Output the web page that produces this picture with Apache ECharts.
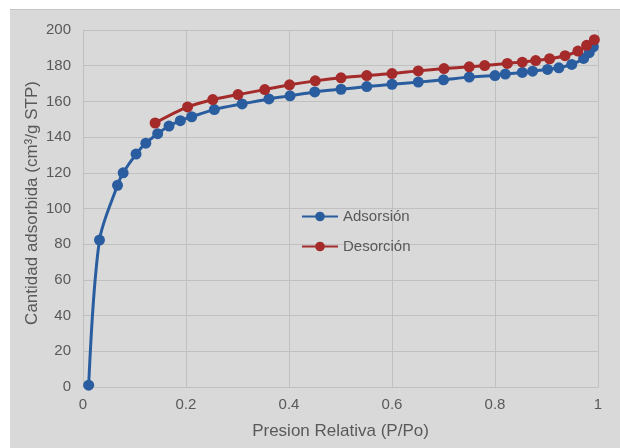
<!DOCTYPE html>
<html>
<head>
<meta charset="utf-8">
<script src="https://cdn.jsdelivr.net/npm/echarts@6/dist/echarts.min.js"></script>
<style>
  html, body { margin: 0; padding: 0; background: #ffffff; }
  #wrap { position: absolute; left: 10px; top: 9px; width: 610px; height: 439px;
          background: #d9d9d9; border-top: 1px solid #c4c4c4; box-sizing: border-box; }
  #main { width: 610px; height: 438px; }
</style>
</head>
<body>
<div id="wrap"><div id="main"></div></div>
<script>
// isoterma: presion relativa y cantidad adsorbida
var adsX = [0.011, 0.032, 0.067, 0.078, 0.103, 0.122, 0.145, 0.167, 0.189, 0.211, 0.255, 0.309,
            0.361, 0.402, 0.450, 0.501, 0.551, 0.600, 0.651, 0.700, 0.750, 0.800, 0.820, 0.853,
            0.873, 0.902, 0.924, 0.949, 0.972, 0.983, 0.991];
var adsY = [1, 82.3, 113, 120, 130.5, 136.6, 141.9, 146.2, 149.2, 151.4, 155.4, 158.6,
            161.4, 163.1, 165.3, 166.8, 168.3, 169.6, 170.8, 172.1, 173.6, 174.5, 175.3, 176.2,
            176.9, 177.9, 178.8, 180.7, 184.1, 187.3, 190.6];
var desX = [0.140, 0.203, 0.252, 0.301, 0.353, 0.401, 0.451, 0.501, 0.551, 0.600, 0.651,
            0.701, 0.750, 0.780, 0.824, 0.853, 0.879, 0.906, 0.936, 0.961, 0.978, 0.993];
var desY = [147.9, 156.9, 161, 163.8, 166.6, 169.3, 171.5, 173.2, 174.5, 175.6, 177.1,
            178.4, 179.4, 180.1, 181.3, 182, 182.9, 183.9, 185.6, 188.2, 191.4, 194.6];

function pares(xs, ys) {
    var out = [];
    for (var i = 0; i < xs.length; i++) out.push([xs[i], ys[i]]);
    return out;
}

var myChart = echarts.init(document.getElementById('main'));
var txt = '#595959';
var grid = '#c0c0c0';

var option = {
    animation: false,
    textStyle: { fontFamily: 'Liberation Sans, Arial, sans-serif' },
    grid: { left: 73, right: 22, top: 20, bottom: 61 },
    legend: {
        orient: 'vertical',
        left: 291,
        top: 199,
        padding: 0,
        itemWidth: 36,
        itemHeight: 12,
        itemGap: 15,
        textStyle: { color: txt, fontSize: 15 },
        data: ['Adsorsión', 'Desorción']
    },
    xAxis: {
        type: 'value',
        min: 0, max: 1, interval: 0.2,
        name: 'Presion Relativa (P/Po)',
        nameLocation: 'middle',
        nameGap: 36,
        nameTextStyle: { color: txt, fontSize: 17 },
        axisLine: { lineStyle: { color: grid } },
        axisTick: { show: false },
        axisLabel: { color: txt, fontSize: 15, margin: 10 },
        splitLine: { show: true, lineStyle: { color: grid } }
    },
    yAxis: {
        type: 'value',
        min: 0, max: 200, interval: 20,
        name: 'Cantidad adsorbida (cm³/g STP)',
        nameLocation: 'middle',
        nameGap: 42,
        nameMoveOverlap: false,
        nameTextStyle: { color: txt, fontSize: 17, padding: [0, 0, 0, 11] },
        axisLine: { show: true, lineStyle: { color: grid } },
        axisTick: { show: false },
        axisLabel: { color: txt, fontSize: 15, margin: 12 },
        splitLine: { lineStyle: { color: grid } }
    },
    series: [
        {
            name: 'Adsorsión',
            type: 'line',
            smooth: 0.3,
            symbol: 'circle',
            symbolSize: 11,
            itemStyle: { color: '#2a5d9f' },
            lineStyle: { width: 3, color: '#2a5d9f' },
            data: pares(adsX, adsY)
        },
        {
            name: 'Desorción',
            type: 'line',
            smooth: 0.3,
            symbol: 'circle',
            symbolSize: 11,
            itemStyle: { color: '#a52a2a' },
            lineStyle: { width: 3, color: '#a52a2a' },
            data: pares(desX, desY)
        }
    ]
};

myChart.setOption(option, true);
</script>
</body>
</html>
